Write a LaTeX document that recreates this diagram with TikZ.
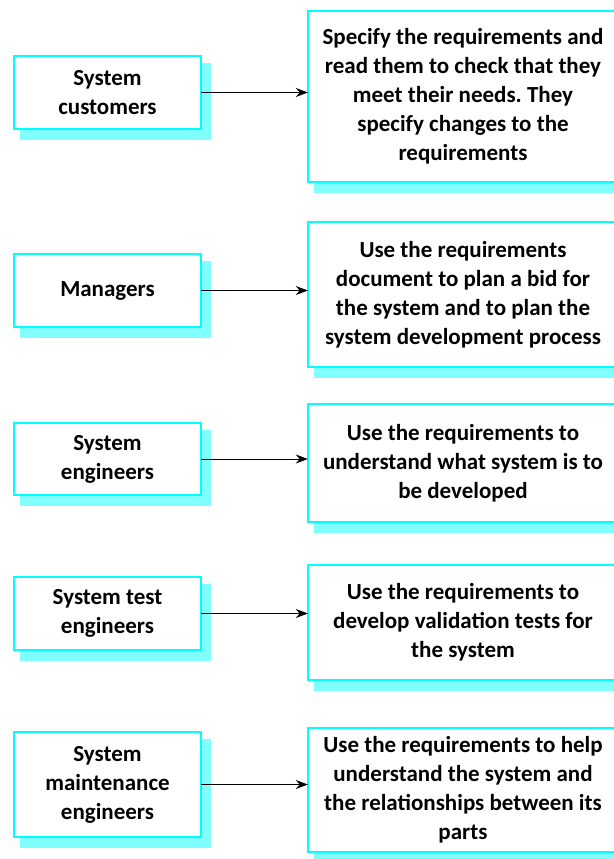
\documentclass[tikz,border=0pt]{standalone}
\usepackage{fontspec}
\setmainfont{Carlito}
\usetikzlibrary{arrows.meta,backgrounds}
\definecolor{boxline}{RGB}{0,255,255}
\definecolor{boxshade}{RGB}{128,255,255}
\frenchspacing

\begin{document}
\begin{tikzpicture}[
    x=1pt, y=-1pt,
    rolebox/.style={inner sep=0pt, font=\fontsize{23}{29}\selectfont\bfseries,
      align=center, minimum width=187pt},
    usebox/.style={rolebox, minimum width=310pt},
    conn/.style={line width=1pt, -{Stealth[length=12pt, width=9pt]}},
    frame/.style={draw=boxline, fill=white, line width=2pt},
    shade/.style={fill=boxshade},
  ]
  \clip (0,0) rectangle (613,859);

  % stakeholders and what they do with the requirements
  \foreach \yl/\hl/\yr/\hr/\role/\what [count=\i] in {
      92.5/73pt/96.5/171pt/{System\\customers}/{Specify the requirements and\\read them to check that they\\meet their needs. They\\specify changes to the\\requirements},
      290.5/73pt/294.5/145pt/{Managers}/{Use the requirements\\document to plan a bid for\\the system and to plan the\\system development process},
      459/72pt/463/118pt/{System\\engineers}/{Use the requirements to\\understand what system is to\\be developed},
      613.5/73pt/622.5/115pt/{System test\\engineers}/{Use the requirements to\\develop validation tests for\\the system},
      784.5/105pt/790/124pt/{System\\maintenance\\engineers}/{Use the requirements to help\\understand the system and\\the relationships between its\\parts}} {
    \node[rolebox, minimum height=\hl] (role\i) at (107.5,\yl) {\role};
    \node[usebox, minimum height=\hr] (use\i) at (463,\yr) {\what};
    \draw[conn] (role\i) -- (role\i -| use\i.west);
  }

  % frames and shadows behind the text
  \begin{pgfonlayer}{background}
    \foreach \n in {role1,role2,role3,role4,role5,use1,use2,use3,use4,use5} {
      \path[shade] ([shift={(6,7)}]\n.north west) rectangle ([shift={(10,11)}]\n.south east);
      \path[frame] (\n.north west) rectangle (\n.south east);
    }
  \end{pgfonlayer}
\end{tikzpicture}
\end{document}
